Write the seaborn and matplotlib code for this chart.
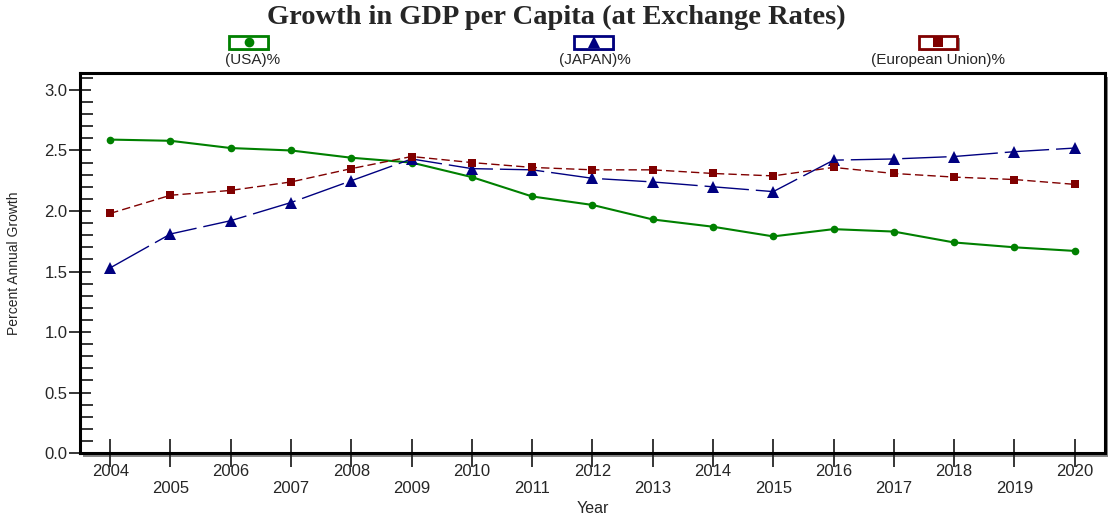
import numpy as np
import pandas as pd
import matplotlib
matplotlib.use("Agg")
import matplotlib.pyplot as plt
from matplotlib.patches import Rectangle
from matplotlib.lines import Line2D
from matplotlib.ticker import MultipleLocator
import seaborn as sns

# datos
years = list(range(2004, 2021))
usa = [2.59, 2.58, 2.52, 2.50, 2.44, 2.40, 2.28, 2.12, 2.05, 1.93, 1.87, 1.79, 1.85, 1.83, 1.74, 1.70, 1.67]
japan = [1.53, 1.81, 1.92, 2.07, 2.25, 2.43, 2.35, 2.34, 2.27, 2.24, 2.20, 2.16, 2.42, 2.43, 2.45, 2.49, 2.52]
eu = [1.98, 2.13, 2.17, 2.24, 2.35, 2.45, 2.40, 2.36, 2.34, 2.34, 2.31, 2.29, 2.36, 2.31, 2.28, 2.26, 2.22]
series_names = ["(USA)%", "(JAPAN)%", "(European Union)%"]
colors = ["#008000", "#000080", "#800000"]
markers = ["o", "^", "s"]

df = pd.DataFrame({
    "Year": years * 3,
    "Growth": usa + japan + eu,
    "Series": [s for s in series_names for _ in years],
})

sns.set_style("white")
plt.rcParams["font.family"] = ["Liberation Sans", "DejaVu Sans"]

fig = plt.figure(figsize=(11.12, 5.16), dpi=100)
ax_pos = [0.072, 0.122, 0.9215, 0.7365]
ax = fig.add_axes(ax_pos)

sns.lineplot(data=df, x="Year", y="Growth", hue="Series", style="Series",
             palette=dict(zip(series_names, colors)),
             markers=dict(zip(series_names, markers)),
             dashes={series_names[0]: "", series_names[1]: (32, 5), series_names[2]: (6, 3)},
             markeredgewidth=0, legend=False, ax=ax)
for line, lw, ms in zip(ax.lines, [1.5, 1.0, 1.0], [5.5, 9, 5.5]):
    line.set_linewidth(lw)
    line.set_markersize(ms)

ax.set_xlim(2003.5, 2020.5)
ax.set_ylim(0, 3.14)
ax.set_xticks(years)
ax.set_xticklabels([str(y) if y % 2 == 0 else "\n" + str(y) for y in years], fontsize=12,
                   linespacing=1.15)
ax.yaxis.set_major_locator(MultipleLocator(0.5))
ax.yaxis.set_minor_locator(MultipleLocator(0.1))
ax.set_yticklabels([f"{v:.1f}" for v in ax.get_yticks()], fontsize=12)
ax.tick_params(axis="x", which="major", direction="inout", length=20, width=1.3, pad=-2, bottom=True)
ax.tick_params(axis="y", which="major", direction="inout", length=16, width=1.3, pad=1, left=True)
ax.tick_params(axis="y", which="minor", direction="in", length=9, width=1.3, left=True)
ax.set_xlabel("Year", fontsize=11.5)
ax.set_ylabel("Percent Annual Growth", fontsize=10)
ax.xaxis.set_label_coords(0.5, -0.125)
ax.yaxis.set_label_coords(-0.058, 0.5)

for sp in ax.spines.values():
    sp.set_visible(True)
    sp.set_color("black")
    sp.set_linewidth(2.2)

# sombra del marco
fig.add_artist(Rectangle((ax_pos[0] + 0.003, ax_pos[1] - 0.007), ax_pos[2], ax_pos[3],
                         transform=fig.transFigure, facecolor="#888888", edgecolor="none", zorder=-1))

fig.suptitle("Growth in GDP per Capita (at Exchange Rates)", y=0.99, fontsize=20.5,
             fontweight="bold", family="Liberation Serif")

# leyenda al estilo original
leg_x = [0.2235, 0.534, 0.8435]
label_x = [0.2275, 0.535, 0.8435]
for x, lx, name, c, m in zip(leg_x, label_x, series_names, colors, markers):
    fig.add_artist(Rectangle((x - 0.0175 + 0.002, 0.906 - 0.005), 0.035, 0.025, transform=fig.transFigure,
                             facecolor="#888888", edgecolor="none"))
    fig.add_artist(Rectangle((x - 0.0175, 0.906), 0.035, 0.025, transform=fig.transFigure,
                             facecolor="white", edgecolor=c, linewidth=2))
    fig.add_artist(Line2D([x], [0.9185], transform=fig.transFigure, marker=m, color=c,
                          markersize=7 if m != "^" else 9, markeredgewidth=0))
    fig.text(lx, 0.884, name, ha="center", va="center", fontsize=11)

fig.savefig("out.png", dpi=100)
